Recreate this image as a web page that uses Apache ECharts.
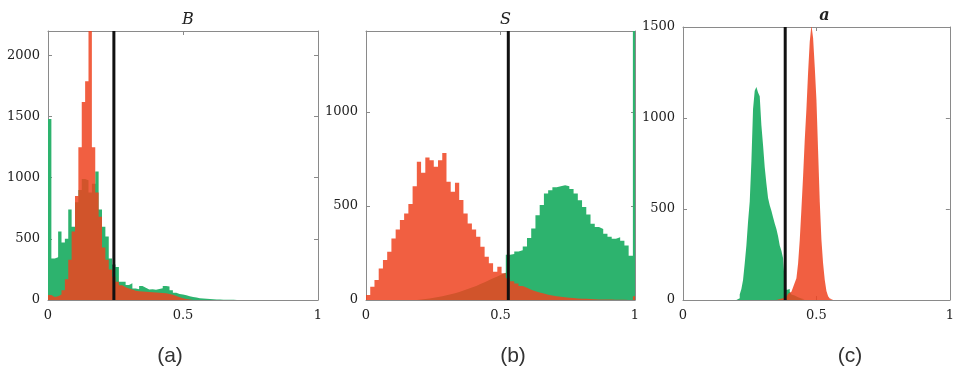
<!DOCTYPE html>
<html>
<head>
<meta charset="utf-8">
<script src="https://cdn.jsdelivr.net/npm/echarts@6/dist/echarts.min.js"></script>
<style>
  html, body { margin: 0; padding: 0; background: #fff; }
  #chart { width: 957px; height: 370px; }
</style>
</head>
<body>
<div id="chart"></div>
<script>
// Histogram counts per bin (bins start at 0 and have width binWidth*).
const binWidthB = 0.0125;
const greenB = [1480, 340, 350, 560, 470, 500, 740, 600, 800, 900, 990, 980, 880, 950, 1050, 740,
  600, 520, 340, 290, 270, 150, 150, 123, 136, 95, 88, 115, 100, 85, 88, 84, 90, 96, 115, 110,
  80, 60, 50, 45, 38, 30, 25, 20, 15, 12, 10, 8, 6, 5, 4, 3, 3, 2, 2, 1];
const orangeB = [40, 25, 30, 45, 80, 170, 330, 560, 850, 1250, 1620, 1790, 2300, 1250, 880, 680,
  430, 330, 250, 190, 150, 120, 105, 95, 85, 75, 72, 70, 68, 66, 64, 62, 60, 58, 55, 50,
  42, 32, 22, 14, 8, 4, 2];

const binWidthS = 1 / 63.5;
const greenS = [0, 0, 0, 0, 0, 0, 0, 0, 0, 0, 0, 0, 3, 5, 8, 12, 16, 20, 25, 30, 36, 42, 50, 58,
  66, 75, 85, 95, 105, 115, 125, 135, 145, 240, 245, 258, 265, 285, 330, 380, 450, 505, 566, 584,
  600, 605, 610, 605, 590, 566, 530, 495, 455, 405, 388, 378, 352, 336, 325, 333, 315, 290, 235, 1500];
const orangeS = [27, 71, 106, 168, 212, 257, 327, 375, 425, 460, 510, 605, 735, 676, 757, 743,
  708, 743, 782, 628, 575, 623, 531, 460, 407, 375, 336, 283, 230, 195, 150, 177, 142, 115, 100, 88,
  75, 65, 55, 47, 40, 34, 28, 24, 20, 17, 14, 12, 10, 8, 7, 6, 5, 4, 3, 3, 2, 2, 1, 1, 1, 0, 0, 20];

const binWidthA = 0.00625;
const greenA = [0, 0, 0, 0, 0, 0, 0, 0, 0, 0, 0, 0, 0, 0, 0, 0, 0, 0, 0, 0, 0, 0, 0, 0, 0, 0, 0, 0,
  0, 0, 0, 0, 0, 10, 30, 60, 110, 200, 300, 430, 540, 760, 1050, 1150, 1170, 1140, 1120, 960, 850,
  730, 640, 560, 520, 490, 455, 420, 390, 350, 300, 270, 230, 100, 55, 60, 45, 30, 25, 20, 15, 10,
  8, 5, 4, 3];
const orangeA = [0, 0, 0, 0, 0, 0, 0, 0, 0, 0, 0, 0, 0, 0, 0, 0, 0, 0, 0, 0, 0, 0, 0, 0, 0, 0, 0, 0,
  0, 0, 0, 0, 0, 0, 0, 0, 0, 0, 0, 0, 0, 0, 0, 0, 0, 0, 0, 0, 0, 0, 0, 0, 0, 0, 0, 0, 3, 5, 8, 10,
  15, 18, 25, 35, 45, 55, 70, 95, 120, 200, 330, 500, 680, 880, 1050, 1250, 1420, 1510, 1440, 1280,
  1100, 820, 540, 330, 200, 110, 50, 20, 8, 3];

// Decision thresholds (vertical lines)
const thresholds = [0.244, 0.529, 0.383];
// Panel titles, captions and y-axis ranges
const panelTitles = ['B', 'S', 'a'];
const captions = ['(a)', '(b)', '(c)'];
const yMax = [2200, 1430, 1500];
const yInterval = 500;
const xTicks = [0, 0.5, 1];

const GREEN = '#2db36e';
const ORANGE = 'rgba(238, 67, 32, 0.85)';
const AXIS = '#8a8a8a';
const SERIF = 'DejaVu Serif';

const grids = [
  { left: 48, top: 31, width: 270, height: 269 },
  { left: 366, top: 31, width: 269, height: 269 },
  { left: 683, top: 27, width: 273, height: 273 }
];

// Step outline points for a histogram: left edge of each bin plus the closing edge
function stepPoints(counts, w) {
  const pts = counts.map((c, i) => [i * w, c]);
  pts.push([counts.length * w, counts[counts.length - 1]]);
  return pts;
}

const hist = [
  { green: greenB, orange: orangeB, w: binWidthB },
  { green: greenS, orange: orangeS, w: binWidthS },
  { green: greenA, orange: orangeA, w: binWidthA }
];

const xAxis = [], yAxis = [], series = [], titles = [];
grids.forEach((g, i) => {
  const base = {
    type: 'value', gridIndex: i, min: 0, max: 1, interval: 0.5,
    axisLine: { show: true, onZero: false, lineStyle: { color: AXIS, width: 1 } },
    axisTick: { show: true, inside: true, length: 4, lineStyle: { color: AXIS } },
    splitLine: { show: false }
  };
  xAxis.push(Object.assign({}, base, {
    position: 'bottom',
    axisLabel: {
      margin: 9, fontFamily: SERIF, fontSize: 13, color: '#222',
      formatter: v => (xTicks.indexOf(v) >= 0 ? String(v) : '')
    }
  }));
  xAxis.push(Object.assign({}, base, { position: 'top', axisLabel: { show: false } }));

  const ybase = {
    type: 'value', gridIndex: i, min: 0, max: yMax[i], interval: yInterval,
    axisLine: { show: true, onZero: false, lineStyle: { color: AXIS, width: 1 } },
    axisTick: { show: true, inside: true, length: 4, lineStyle: { color: AXIS } },
    splitLine: { show: false }
  };
  yAxis.push(Object.assign({}, ybase, {
    position: 'left',
    axisLabel: {
      margin: 8, fontFamily: SERIF, fontSize: 13, color: '#222',
      showMaxLabel: yMax[i] % yInterval === 0,
      formatter: v => String(v)
    }
  }));
  yAxis.push(Object.assign({}, ybase, { position: 'right', axisLabel: { show: false } }));

  const h = hist[i];
  [[h.green, GREEN], [h.orange, ORANGE]].forEach(([counts, color], k) => {
    series.push({
      type: 'line', xAxisIndex: 2 * i, yAxisIndex: 2 * i,
      data: stepPoints(counts, h.w), step: 'end', symbol: 'none', clip: true,
      lineStyle: { width: 0, opacity: 0 },
      areaStyle: { color: color, opacity: 1 },
      z: 2 + k, silent: true, animation: false
    });
  });
  series.push({
    type: 'line', xAxisIndex: 2 * i, yAxisIndex: 2 * i,
    data: [[thresholds[i], 0], [thresholds[i], yMax[i]]],
    symbol: 'none', clip: true,
    lineStyle: { color: '#111', width: 3 },
    z: 5, silent: true, animation: false
  });

  titles.push({
    text: panelTitles[i],
    left: g.left + g.width / 2, top: g.top - 24, textAlign: 'center',
    textStyle: {
      fontFamily: SERIF, fontStyle: 'italic', fontSize: 16,
      fontWeight: i === 2 ? 'bold' : 'normal', color: '#222'
    }
  });
});

const captionX = [165, 508, 845];
captions.forEach((c, i) => {
  titles.push({
    text: c, left: captionX[i], top: 341, textAlign: 'center',
    textStyle: { fontFamily: 'Liberation Sans', fontSize: 21, fontWeight: 'normal', color: '#333' }
  });
});

const chart = echarts.init(document.getElementById('chart'), null, { renderer: 'canvas' });
chart.setOption({
  animation: false,
  backgroundColor: '#fff',
  title: titles,
  grid: grids,
  xAxis: xAxis,
  yAxis: yAxis,
  series: series
});
</script>
</body>
</html>
